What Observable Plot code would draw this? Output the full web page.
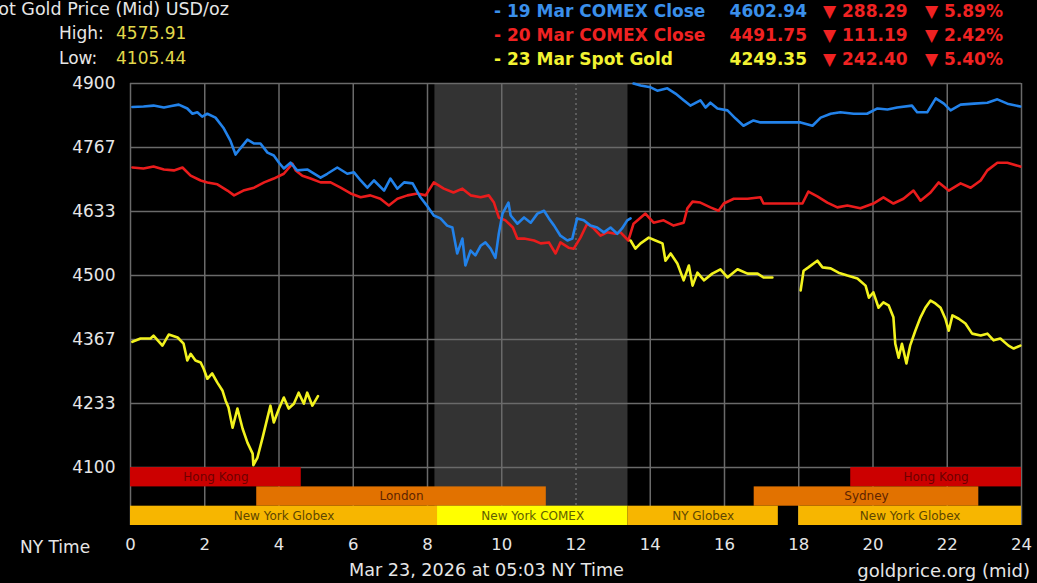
<!DOCTYPE html>
<html><head><meta charset="utf-8">
<script src="https://cdn.jsdelivr.net/npm/d3@7"></script>
<script src="https://cdn.jsdelivr.net/npm/@observablehq/plot@0.6"></script>
<style>
html,body{margin:0;padding:0;background:#000;overflow:hidden}
#wrap{position:relative;width:1037px;height:583px;overflow:hidden;font-family:"DejaVu Sans",Verdana,sans-serif;color:#e6e6e6}
#wrap svg{position:absolute;left:0;top:0}
.t{position:absolute;white-space:nowrap;line-height:1;font-size:16px}
.b{font-weight:bold}
</style></head><body><div id="wrap"></div>
<script>
// ---- data ----
const hourTicks = [0,2,4,6,8,10,12,14,16,18,20,22,24];
const priceTicks = [4100, 4233.33, 4366.67, 4500, 4633.33, 4766.67, 4900];
const comexHours = [8.2, 13.4];

const sessionNames = ["Hong Kong","Hong Kong","London","Sydney","New York Globex","New York COMEX","NY Globex","New York Globex"];
const sessionStart = [0, 19.4, 3.4, 16.8, 0, 8.27, 13.4, 18.0];
const sessionEnd   = [4.6, 24, 11.2, 22.85, 8.27, 13.4, 17.45, 24];
const sessionRow   = [0, 0, 1, 1, 2, 2, 2, 2];

const mar19Comex = [[0.05,4851],[0.35,4852],[0.62,4854],[0.9,4850],[1.1,4853],[1.3,4856],[1.53,4848],[1.67,4837],[1.8,4840],[1.93,4831],[2.07,4837],[2.29,4829],[2.5,4808],[2.69,4781],[2.83,4752],[2.96,4765],[3.15,4783],[3.33,4775],[3.5,4775],[3.69,4756],[3.86,4750],[4.0,4735],[4.13,4723],[4.31,4735],[4.49,4719],[4.76,4721],[5.12,4704],[5.3,4712],[5.57,4725],[5.84,4712],[6.02,4715],[6.2,4698],[6.38,4683],[6.56,4698],[6.83,4677],[7.0,4702],[7.19,4681],[7.37,4694],[7.6,4692],[7.81,4663],[8.0,4644],[8.17,4625],[8.35,4619],[8.53,4604],[8.67,4600],[8.8,4546],[8.94,4577],[9.02,4521],[9.16,4552],[9.29,4542],[9.43,4562],[9.56,4569],[9.7,4556],[9.83,4537],[9.92,4587],[10.02,4629],[10.18,4652],[10.24,4625],[10.42,4608],[10.6,4621],[10.78,4610],[10.96,4629],[11.14,4635],[11.27,4619],[11.41,4604],[11.58,4583],[11.77,4573],[11.9,4577],[12.03,4619],[12.21,4615],[12.39,4604],[12.57,4600],[12.75,4590],[12.93,4600],[13.11,4587],[13.24,4598],[13.38,4615],[13.47,4619],[13.5,null],[13.55,4900],[13.74,4896],[14.01,4892],[14.19,4885],[14.46,4890],[14.68,4879],[14.9,4865],[15.08,4854],[15.35,4865],[15.49,4850],[15.62,4860],[15.81,4848],[16.08,4844],[16.3,4827],[16.51,4812],[16.78,4823],[16.97,4819],[18.05,4819],[18.37,4812],[18.59,4829],[18.86,4837],[19.12,4840],[19.48,4837],[19.84,4837],[20.12,4848],[20.39,4846],[20.65,4850],[21.05,4854],[21.19,4840],[21.46,4840],[21.69,4869],[21.91,4858],[22.09,4844],[22.36,4856],[22.72,4858],[23.08,4860],[23.35,4867],[23.62,4858],[23.97,4852]];

const mar20Comex = [[0.05,4725],[0.35,4723],[0.62,4727],[0.9,4721],[1.17,4719],[1.4,4725],[1.62,4708],[1.89,4698],[2.07,4694],[2.34,4690],[2.61,4677],[2.79,4667],[3.04,4677],[3.33,4683],[3.6,4694],[3.86,4702],[4.13,4712],[4.36,4733],[4.45,4719],[4.63,4708],[4.85,4702],[5.12,4694],[5.39,4694],[5.66,4683],[5.93,4671],[6.2,4663],[6.46,4667],[6.73,4660],[6.96,4646],[7.19,4660],[7.46,4667],[7.73,4671],[7.95,4667],[8.17,4694],[8.44,4681],[8.7,4673],[8.94,4681],[9.16,4667],[9.43,4663],[9.65,4667],[9.79,4652],[9.92,4621],[10.1,4615],[10.3,4600],[10.42,4577],[10.6,4577],[10.87,4573],[11.05,4567],[11.27,4569],[11.45,4546],[11.58,4569],[11.8,4558],[11.94,4556],[12.12,4579],[12.3,4608],[12.48,4598],[12.66,4583],[12.84,4590],[13.06,4587],[13.2,4590],[13.41,4573],[13.55,4608],[13.87,4629],[14.09,4610],[14.36,4615],[14.63,4604],[14.9,4610],[15.0,4640],[15.14,4654],[15.35,4652],[15.62,4642],[15.84,4635],[15.98,4650],[16.25,4660],[16.62,4660],[16.97,4663],[17.05,4650],[18.1,4650],[18.26,4675],[18.5,4665],[18.77,4652],[19.04,4642],[19.31,4646],[19.66,4640],[20.01,4650],[20.28,4663],[20.55,4650],[20.82,4660],[21.09,4677],[21.28,4656],[21.55,4673],[21.77,4694],[22.04,4677],[22.36,4692],[22.63,4683],[22.9,4698],[23.08,4719],[23.35,4735],[23.62,4735],[23.97,4727]];

const mar23Spot = [[0.05,4362],[0.27,4369],[0.54,4369],[0.62,4375],[0.86,4354],[1.03,4377],[1.27,4371],[1.43,4358],[1.53,4323],[1.62,4337],[1.75,4323],[1.89,4319],[1.97,4306],[2.07,4285],[2.2,4296],[2.34,4277],[2.48,4260],[2.56,4240],[2.64,4225],[2.75,4183],[2.88,4223],[3.02,4181],[3.15,4152],[3.29,4129],[3.31,4105],[3.42,4121],[3.56,4163],[3.69,4204],[3.77,4229],[3.86,4194],[4.0,4223],[4.13,4246],[4.26,4223],[4.4,4233],[4.53,4256],[4.67,4233],[4.76,4256],[4.9,4229],[5.05,4249],[5.1,null],
[13.47,4573],[13.6,4556],[13.74,4567],[13.96,4579],[14.14,4573],[14.33,4567],[14.41,4531],[14.55,4546],[14.73,4525],[14.9,4490],[15.04,4521],[15.14,4479],[15.27,4506],[15.45,4490],[15.67,4504],[15.89,4513],[16.08,4496],[16.35,4513],[16.62,4504],[16.89,4504],[17.05,4496],[17.29,4496],[17.5,null],
[18.05,4469],[18.13,4510],[18.26,4517],[18.5,4531],[18.64,4517],[18.86,4515],[19.07,4506],[19.31,4500],[19.58,4494],[19.8,4479],[19.89,4454],[20.01,4465],[20.15,4433],[20.28,4444],[20.42,4438],[20.55,4413],[20.6,4358],[20.69,4329],[20.78,4358],[20.9,4317],[21.0,4354],[21.14,4385],[21.28,4413],[21.41,4433],[21.55,4448],[21.68,4442],[21.82,4433],[21.95,4410],[22.04,4385],[22.14,4417],[22.31,4410],[22.49,4400],[22.67,4379],[22.9,4375],[23.08,4379],[23.25,4365],[23.43,4369],[23.65,4354],[23.79,4348],[23.97,4354]];

const legendLabels = ["- 19 Mar COMEX Close","- 20 Mar COMEX Close","- 23 Mar Spot Gold"];
const legendPrices = ["4602.94","4491.75","4249.35"];
const legendChanges = ["288.29","111.19","242.40"];
const legendPercents = ["5.89%","2.42%","5.40%"];
const highLow = [["High:","4575.91"],["Low:","4105.44"]];

// ---- styles ----
const seriesColors = ["#2282ea","#ea1c1c","#f2f21e"];
const legendColors = ["#3a8fea","#f02222","#f2f232"];
const sessionFill = {"Hong Kong":"#cc0000","London":"#e27200","Sydney":"#e27200","New York Globex":"#f7b600","NY Globex":"#f7b600","New York COMEX":"#ffff00"};
const sessionText = {"Hong Kong":"#6e0000","London":"#5e2400","Sydney":"#5e2400","New York Globex":"#5e4600","NY Globex":"#5e4600","New York COMEX":"#5e5e00"};

const sessions = sessionNames.map((n,i)=>({name:n,start:sessionStart[i],end:sessionEnd[i],row:sessionRow[i]}));
const rowH = 40.2;
const yMin = 4100 - 3*rowH;
const rowTop = r => 4100 - r*rowH;
const rowBot = r => 4100 - (r+1)*rowH;

const chart = Plot.plot({
  width: 1037, height: 583,
  marginLeft: 130, marginRight: 16, marginTop: 83, marginBottom: 58,
  style: {background: "transparent", color: "#e6e6e6", fontFamily: "DejaVu Sans, Verdana, sans-serif", fontSize: "16px"},
  color: {type: "identity"},
  x: {domain: [0,24], label: null},
  y: {domain: [yMin, 4900], label: null},
  marks: [
    Plot.rect([comexHours], {x1: d=>d[0], x2: d=>d[1], y1: ()=>yMin, y2: ()=>4900, fill: "#333333"}),
    Plot.ruleY(priceTicks, {stroke: "#6a6a6a", strokeWidth: 1.5}),
    Plot.ruleX(hourTicks.filter(h=>h!==12), {y1: yMin, y2: 4900, stroke: "#6a6a6a", strokeWidth: 1.5}),
    Plot.ruleX([12], {y1: yMin, y2: 4900, stroke: "#777", strokeWidth: 1.2, strokeDasharray: "2,3"}),
    Plot.rect(sessions, {x1: "start", x2: "end", y1: d=>rowBot(d.row), y2: d=>rowTop(d.row), fill: d=>sessionFill[d.name]}),
    Plot.text(sessions, {x: d=>(d.start+d.end)/2, y: d=>(rowTop(d.row)+rowBot(d.row))/2, text: "name", fill: d=>sessionText[d.name], fontSize: 12}),
    Plot.line(mar20Comex, {x: d=>d[0], y: d=>d[1], stroke: seriesColors[1], strokeWidth: 2.6}),
    Plot.line(mar19Comex, {x: d=>d[0], y: d=>d[1], stroke: seriesColors[0], strokeWidth: 2.6}),
    Plot.line(mar23Spot, {x: d=>d[0], y: d=>d[1], stroke: seriesColors[2], strokeWidth: 2.6}),
    Plot.axisX({ticks: hourTicks, tickSize: 0, tickPadding: 13, label: null, fontSize: 16.5}),
    Plot.axisY({ticks: priceTicks, tickFormat: d3.format(".0f"), tickSize: 0, tickPadding: 15, label: null, fontSize: 17})
  ]
});
const wrap = document.getElementById("wrap");
wrap.appendChild(chart);

function addText(txt, css, cls){
  const d = document.createElement("div");
  d.className = "t" + (cls ? " " + cls : "");
  d.textContent = txt;
  Object.assign(d.style, css);
  wrap.appendChild(d);
  return d;
}
addText("Spot Gold Price (Mid) USD/oz", {left: "-24px", top: "1px", fontSize: "17.5px"});
highLow.forEach((hl, i) => {
  addText(hl[0], {left: "59px", top: (25 + i*25) + "px", fontSize: "17px"});
  addText(hl[1], {left: "116px", top: (25 + i*25) + "px", fontSize: "17px", color: "#e2d84a"});
});
legendLabels.forEach((lab, i) => {
  const top = (3 + i*24) + "px";
  const fs = "17px";
  addText(lab, {left: "494px", top, color: legendColors[i], fontSize: fs}, "b");
  addText(legendPrices[i], {right: "230px", top, color: legendColors[i], fontSize: fs}, "b");
  addText("\u25BC " + legendChanges[i], {left: "823px", top, color: "#f02222", fontSize: fs}, "b");
  addText("\u25BC " + legendPercents[i], {left: "925px", top, color: "#f02222", fontSize: fs}, "b");
});
addText("NY Time", {left: "20px", top: "539px", fontSize: "17px"});
addText("Mar 23, 2026 at 05:03 NY Time", {left: "349px", top: "562px", fontSize: "17.6px"});
addText("goldprice.org (mid)", {right: "7px", top: "562px", fontSize: "18px"});
</script>
</body></html>
